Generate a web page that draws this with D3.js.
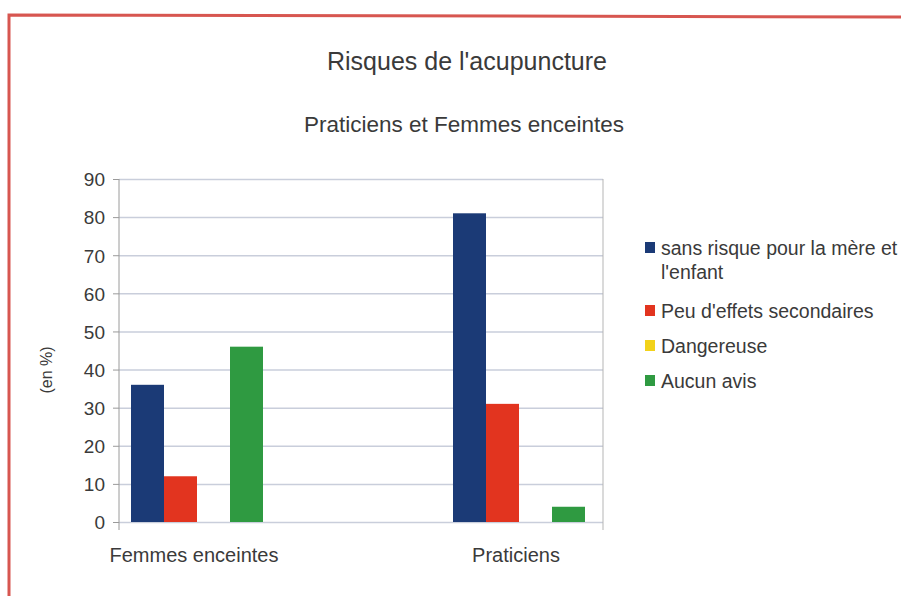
<!DOCTYPE html>
<html>
<head>
<meta charset="utf-8">
<script src="https://cdn.jsdelivr.net/npm/d3@7/dist/d3.min.js"></script>
<style>
  body { margin: 0; background: #fff; }
  svg text { font-family: "Liberation Sans", Arial, sans-serif; fill: #3a3a3a; }
  .grid line { stroke: #c9cedb; stroke-width: 1.5; }
  .grid path { display: none; }
  .y.axis path, .y.axis line { stroke: #9a9a9a; }
</style>
</head>
<body>
<div id="chart"></div>
<script>
// data
var categories = ["Femmes enceintes", "Praticiens"];
var seriesNames = ["sans risque pour la mère et l'enfant", "Peu d'effets secondaires", "Dangereuse", "Aucun avis"];
var seriesColors = ["#1b3a76", "#e2341f", "#f2d21a", "#2f9a41"];
var sansRisque = [36, 81];
var peuEffets = [12, 31];
var dangereuse = [0, 0];
var aucunAvis = [46, 4];
var yTicks = [0, 10, 20, 30, 40, 50, 60, 70, 80, 90];

var values = [sansRisque, peuEffets, dangereuse, aucunAvis];
var data = categories.map(function(c, i) {
  return { label: c, vals: values.map(function(s) { return s[i]; }) };
});

var width = 901, height = 596;
var margins = { top: 179, right: 298, bottom: 74, left: 119 };
var chartWidth = width - margins.left - margins.right;
var chartHeight = height - margins.top - margins.bottom;

var svg = d3.select("#chart").append("svg")
  .attr("width", width)
  .attr("height", height);

// red frame of the scan
svg.append("path")
  .attr("d", "M9,596 L9,15 L901,17")
  .attr("fill", "none")
  .attr("stroke", "#d75650")
  .attr("stroke-width", 3);

svg.append("text")
  .attr("x", 467).attr("y", 70)
  .attr("text-anchor", "middle")
  .style("font-size", "25px")
  .text("Risques de l'acupuncture");

svg.append("text")
  .attr("x", 464).attr("y", 132)
  .attr("text-anchor", "middle")
  .style("font-size", "22.5px")
  .text("Praticiens et Femmes enceintes");

var chart = svg.append("g")
  .attr("transform", "translate(" + margins.left + "," + margins.top + ")");

var yScale = d3.scaleLinear().domain([0, 90]).range([chartHeight, 0]);

var x0 = d3.scalePoint().domain(categories).range([78, 400]);
var x1 = d3.scaleBand().domain(seriesNames).range([-66, 66]);

// grid
chart.append("g")
  .attr("class", "grid")
  .call(d3.axisLeft(yScale).tickValues(yTicks).tickSize(-chartWidth).tickFormat(""));

// right border of plot
chart.append("line")
  .attr("x1", chartWidth).attr("x2", chartWidth)
  .attr("y1", 0).attr("y2", chartHeight + 8)
  .attr("stroke", "#b5b5b5");

// y axis
var yAxis = chart.append("g")
  .attr("class", "y axis")
  .call(d3.axisLeft(yScale).tickValues(yTicks).tickSize(6).tickPadding(8));
yAxis.select(".domain").attr("d", "M0,0V" + (chartHeight + 8));
yAxis.selectAll("text")
  .style("font-size", "19px")
  .attr("dy", "0.36em");

// bars
var groups = chart.append("g")
  .attr("class", "bars")
  .selectAll("g")
  .data(data)
  .enter()
  .append("g")
  .attr("transform", function(d) { return "translate(" + x0(d.label) + ",0)"; });

groups.selectAll("rect")
  .data(function(d) { return d.vals.map(function(v, i) { return { v: v, s: seriesNames[i], c: seriesColors[i] }; }); })
  .enter()
  .append("rect")
  .attr("x", function(d) { return x1(d.s); })
  .attr("width", x1.bandwidth())
  .attr("y", function(d) { return yScale(d.v); })
  .attr("height", function(d) { return yScale(0) - yScale(d.v); })
  .attr("fill", function(d) { return d.c; });

// category labels
chart.append("g")
  .selectAll("text")
  .data(categories)
  .enter()
  .append("text")
  .attr("x", function(d) { return x0(d) - 3; })
  .attr("y", chartHeight + 40)
  .attr("text-anchor", "middle")
  .style("font-size", "20px")
  .text(function(d) { return d; });

// y label
svg.append("text")
  .attr("transform", "translate(52,370) rotate(-90)")
  .attr("text-anchor", "middle")
  .style("font-size", "16px")
  .text("(en %)");

// legend
var legendRows = [
  { lines: ["sans risque pour la mère et", "l'enfant"], y: 248 },
  { lines: ["Peu d'effets secondaires"], y: 311 },
  { lines: ["Dangereuse"], y: 346 },
  { lines: ["Aucun avis"], y: 381 }
];
var legend = svg.append("g").attr("class", "legend");
legendRows.forEach(function(r, i) {
  legend.append("rect")
    .attr("x", 645).attr("y", r.y - 6)
    .attr("width", 10).attr("height", 11)
    .attr("fill", seriesColors[i]);
  r.lines.forEach(function(t, j) {
    legend.append("text")
      .attr("x", 661).attr("y", r.y + 7 + j * 24)
      .style("font-size", "19.5px")
      .text(t);
  });
});
</script>
</body>
</html>
